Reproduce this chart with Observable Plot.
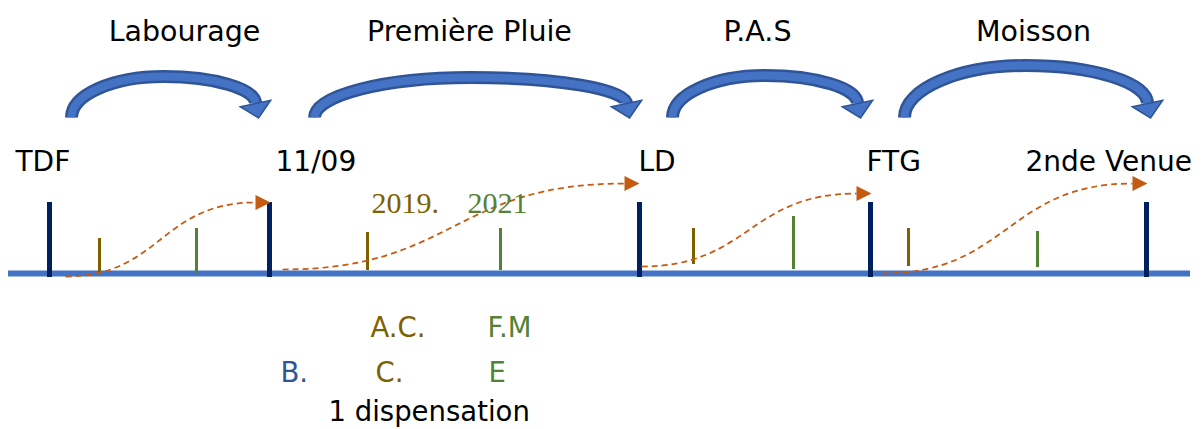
<!DOCTYPE html>
<html><head><meta charset="utf-8">
<script src="https://cdn.jsdelivr.net/npm/d3@7"></script>
<script src="https://cdn.jsdelivr.net/npm/@observablehq/plot@0.6"></script>
<style>body{margin:0;background:#fff}</style>
</head><body><div id="chart"></div>
<script>
// ---- data (timeline units) ----
const stageNames = ["TDF", "11/09", "LD", "FTG", "2nde Venue"];
const stagePos = [49, 269, 639, 870, 1146];
const stageLabelPos = [15, 275, 638, 866, 1025];

const phaseNames = ["Labourage", "Première Pluie", "P.A.S", "Moisson"];
const phaseLabelPos = [184, 469, 757, 1033];
const phaseFrom = [71, 314, 672, 904];
const phaseTo = [255, 626, 857, 1147];
const phaseRise = [76, 77, 75, 65];

const y2019Pos = [99, 367, 693, 908];
const y2019Top = [238, 232, 228, 228];
const y2019Bottom = [274, 270, 264, 266];
const y2021Pos = [196, 500, 793, 1037];
const y2021Top = [228, 228, 216, 231];
const y2021Bottom = [274, 270, 269, 267];

const flowFromX = [65, 282, 641, 882];
const flowFromY = [276, 269, 266, 273];
const flowToX = [255, 624, 856, 1132];
const flowToY = [202, 183, 193, 183];

const yearLabels = ["2019.", "2021"];
const yearGroups = ["c2019", "c2021"];
const yearLabelPos = [371, 467];

const noteLabels = ["A.C.", "F.M", "B.", "C.", "E", "1 dispensation"];
const noteGroups = ["c2019", "c2021", "blue", "c2019", "c2021", "black"];
const notePosX = [370, 487, 280, 375, 488, 328];
const notePosY = [336, 336, 381, 381, 381, 420];

// ---- styles ----
const colors = {c2019: "#7F6000", c2021: "#548235", blue: "#2F5597", black: "#000000"};
const navy = "#002060", axisBlue = "#4472C4", orange = "#C55A11";
const hand = "'DejaVu Sans', 'Open Sans', sans-serif";

// custom shapes
const headDown = {draw(ctx, size) { const r = Math.sqrt(size / Math.PI); ctx.moveTo(-r, 0); ctx.lineTo(r, 0); ctx.lineTo(0, r * 0.95); ctx.closePath(); }};
const headRight = {draw(ctx, size) { const r = Math.sqrt(size / Math.PI); ctx.moveTo(0, -r / 2); ctx.lineTo(r, 0); ctx.lineTo(0, r / 2); ctx.closePath(); }};
function archCurve(context) {
  let pts = [];
  return {
    areaStart() {}, areaEnd() {},
    lineStart() { pts = []; },
    point(x, y) { pts.push([+x, +y]); },
    lineEnd() {
      if (pts.length < 3) return;
      const k = 0.5523, [p0, p1, p2] = pts;
      context.moveTo(p0[0], p0[1]);
      context.bezierCurveTo(p0[0], p0[1] + k * (p1[1] - p0[1]), p1[0] - k * (p1[0] - p0[0]), p1[1], p1[0], p1[1]);
      context.bezierCurveTo(p1[0] + k * (p2[0] - p1[0]), p1[1], p2[0], p2[1] - k * (p2[1] - p1[1]), p2[0], p2[1]);
    }
  };
}

const baseY = 117, headBaseY = 103, majorTop = 202, majorBottom = 277;
const axisFrom = 8, axisTo = 1190, axisLevel = 273;

const arcRows = phaseNames.flatMap((p, i) => [
  {phase: p, x: phaseFrom[i], y: baseY},
  {phase: p, x: (phaseFrom[i] + phaseTo[i]) / 2, y: phaseRise[i]},
  {phase: p, x: phaseTo[i], y: headBaseY}
]);
const idx4 = d3.range(4);

const chart = Plot.plot({
  width: 1202, height: 429, margin: 0,
  x: {domain: [0, 1202], range: [0, 1202], axis: null},
  y: {domain: [0, 429], range: [0, 429], axis: null},
  marks: [
    Plot.ruleY([axisLevel], {x1: axisFrom, x2: axisTo, stroke: axisBlue, strokeWidth: 6}),
    Plot.ruleX(y2019Pos, {x: d => d, y1: (d, i) => y2019Top[i], y2: (d, i) => y2019Bottom[i], stroke: colors.c2019, strokeWidth: 3}),
    Plot.ruleX(y2021Pos, {x: d => d, y1: (d, i) => y2021Top[i], y2: (d, i) => y2021Bottom[i], stroke: colors.c2021, strokeWidth: 3}),
    Plot.ruleX(stagePos, {x: d => d, y1: majorTop, y2: majorBottom, stroke: navy, strokeWidth: 5}),
    Plot.link(idx4, {x1: i => flowFromX[i], y1: i => flowFromY[i], x2: i => flowToX[i], y2: i => flowToY[i], curve: "bump-x", stroke: orange, strokeWidth: 1.75, strokeDasharray: "6,4"}),
    Plot.dot(idx4, {x: i => flowToX[i], y: i => flowToY[i], symbol: headRight, r: 15, fill: orange, stroke: "none"}),
    Plot.line(arcRows, {x: "x", y: "y", z: "phase", curve: archCurve, stroke: "#2F5597", strokeWidth: 13, strokeLinecap: "butt"}),
    Plot.line(arcRows, {x: "x", y: "y", z: "phase", curve: archCurve, stroke: "#4472C4", strokeWidth: 8, strokeLinecap: "butt"}),
    Plot.dot(idx4, {x: i => phaseTo[i], y: headBaseY, symbol: headDown, r: 15.5, rotate: -12, fill: "#4472C4", stroke: "#2F5597", strokeWidth: 1.5}),
    Plot.text(phaseNames, {x: (d, i) => phaseLabelPos[i], y: 40, text: d => d, textAnchor: "middle", lineAnchor: "bottom", fontSize: 28.5, fontFamily: hand, fill: "#000"}),
    Plot.text(stageNames, {x: (d, i) => stageLabelPos[i], y: 170, text: d => d, textAnchor: "start", lineAnchor: "bottom", fontSize: 28, fontFamily: hand, fill: "#000"}),
    Plot.text(yearLabels, {x: (d, i) => yearLabelPos[i], y: 212, text: d => d, textAnchor: "start", lineAnchor: "bottom", fontSize: 30, fontFamily: "'Liberation Serif', 'DejaVu Serif', serif", fill: (d, i) => colors[yearGroups[i]]}),
    Plot.text(noteLabels, {x: (d, i) => notePosX[i], y: (d, i) => notePosY[i], text: d => d, textAnchor: "start", lineAnchor: "bottom", fontSize: 27.5, fontFamily: hand, fill: (d, i) => colors[noteGroups[i]]})
  ]
});
document.getElementById("chart").append(chart);
</script>
</body></html>
